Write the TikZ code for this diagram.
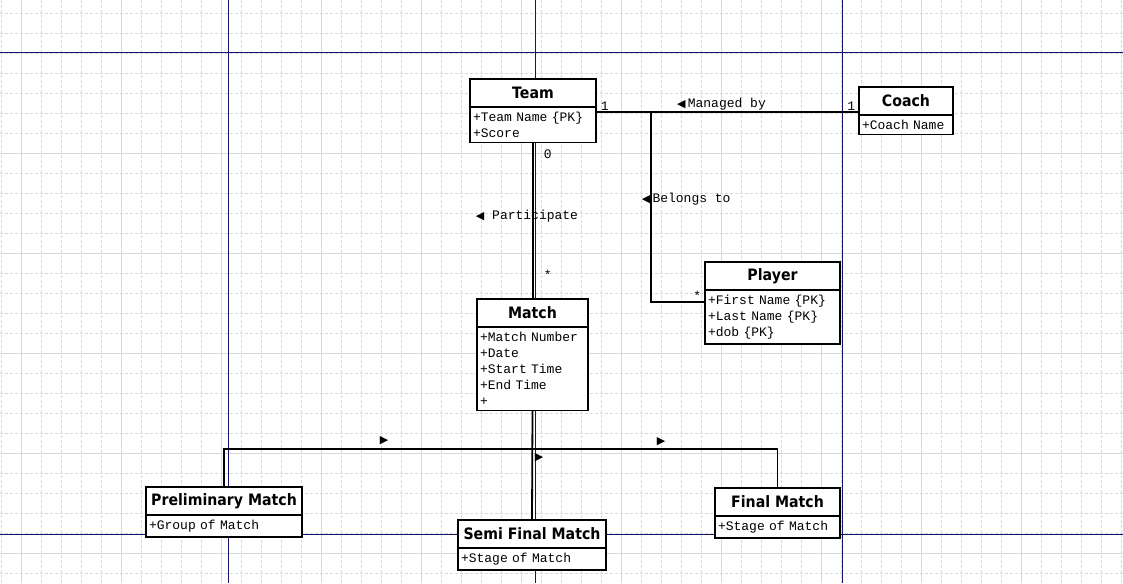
\documentclass[tikz,border=0pt]{standalone}
\usepackage{fontspec}
\usepackage{tikz}
\usetikzlibrary{positioning}

\newfontfamily\headfont[FakeStretch=0.9]{DejaVu Sans}
\newfontfamily\attrfont{Liberation Mono}
\newfontfamily\symfont{DejaVu Sans}
\newcommand\attrstyle{\attrfont\fontsize{13}{16}\selectfont\spaceskip=7.8pt\xspaceskip=7.8pt\relax}
\definecolor{pagenavy}{RGB}{20,20,110}

\begin{document}
\begin{tikzpicture}[x=1pt, y=-1pt,
    minor/.style={gray!30, line width=0.6pt, dash pattern=on 3pt off 2pt},
    major/.style={gray!30, line width=0.8pt},
    pageline/.style={pagenavy, line width=1pt},
    classhead/.style={draw, fill=white, line width=1.8pt, minimum width=#1,
        minimum height=28, inner sep=0pt, outer sep=0pt, anchor=north west,
        font=\headfont\bfseries\fontsize{15.7}{18}\selectfont},
    classbody/.style={draw, fill=white, line width=1.8pt, text width=#1,
        inner xsep=3pt, inner ysep=5pt, outer sep=0pt, align=left,
        font=\attrstyle},
    assoc/.style={line width=1.8pt},
    lbl/.style={font=\attrstyle, inner sep=1pt},
    tri/.style={font=\symfont\fontsize{11}{11}\selectfont, inner sep=0pt}]

    \useasboundingbox (0,0) rectangle (1123,583);
    \fill[white] (0,0) rectangle (1123,583);

    % grid
    \foreach \x in {1,21,...,1121} \draw[minor] (\x,0) -- (\x,583);
    \foreach \y in {13,33,...,573} \draw[minor] (0,\y) -- (1123,\y);
    \foreach \x in {21,121,...,1021} \draw[major] (\x,0) -- (\x,583);
    \foreach \y in {153,253,...,553} \draw[major] (0,\y) -- (1123,\y);
    \foreach \x in {228,535,842} \draw[pageline] (\x,0) -- (\x,583);
    \foreach \y in {53,534} \draw[pageline] (0,\y) -- (1123,\y);

    % classes
    \node[classhead=126] (team) at (470,79) {Team};
    \node[classbody=120pt, below=0pt of team] (teamattr) {+Team Name {\{PK\}}\\+Score};

    \node[classhead=94] (coach) at (859,87) {Coach};
    \node[classbody=88pt, below=0pt of coach] (coachattr) {+Coach Name};

    \node[classhead=111] (match) at (477,299) {Match};
    \node[classbody=105pt, below=0pt of match] (matchattr)
        {+Match Number\\+Date\\+Start Time\\+End Time\\+};

    \node[classhead=135] (player) at (705,262) {Player};
    \node[classbody=129pt, below=0pt of player] (playerattr)
        {+First Name {\{PK\}}\\+Last Name {\{PK\}}\\+dob {\{PK\}}};

    \node[classhead=156] (prelim) at (146,487) {Preliminary Match};
    \node[classbody=150pt, below=0pt of prelim] (prelimattr) {+Group of Match};

    \node[classhead=148] (semi) at (458,520) {Semi Final Match};
    \node[classbody=142pt, below=0pt of semi] (semiattr) {+Stage of Match};

    \node[classhead=125] (final) at (715,488) {Final Match};
    \node[classbody=119pt, below=0pt of final] (finalattr) {+Stage of Match};

    % associations
    \draw[assoc] ([yshift=-5pt]teamattr.north east)
        -- ([yshift=-5pt]teamattr.north east -| coach.west)
        node[lbl, pos=0, anchor=south west, xshift=3pt] (mteam) {1}
        node[lbl, pos=1, anchor=south east, xshift=-2pt] (mcoach) {1}
        node[lbl, midway, anchor=south, xshift=-6pt] (managed)
            {{\symfont\fontsize{11}{11}\selectfont ◀}\,Managed by};

    \coordinate (belong) at (651,111);
    \draw[assoc] (belong) |- ([yshift=-12pt]playerattr.north west)
        node[lbl, pos=0.23, anchor=west, xshift=-11pt] (belongs)
            {{\symfont\fontsize{11}{11}\selectfont ◀}\,Belongs to}
        node[lbl, pos=1, anchor=south east, xshift=-2pt] (mplayer) {*};

    \draw[assoc] (teamattr.south) -- (teamattr.south |- match.north)
        node[lbl, pos=0, anchor=north west, xshift=9pt, yshift=-5pt] (mzero) {0}
        node[lbl, pos=1, anchor=south west, xshift=9pt, yshift=18pt] (mmany) {*}
        node[lbl, midway, xshift=-6pt, yshift=5pt] (participate)
            {{\symfont\fontsize{11}{11}\selectfont ◀} Participate};

    % generalisation
    \coordinate (gen) at (532,449);
    \draw[assoc] (matchattr.south) -- (semi.north);
    \draw[assoc] (prelim.north) |- (gen) -| (final.north);
    \node[tri] (trileft) at (384,441) {▶};
    \node[tri] (triright) at (661,442) {▶};
    \node[tri] (trimid) at (539,458) {▶};

\end{tikzpicture}
\end{document}
